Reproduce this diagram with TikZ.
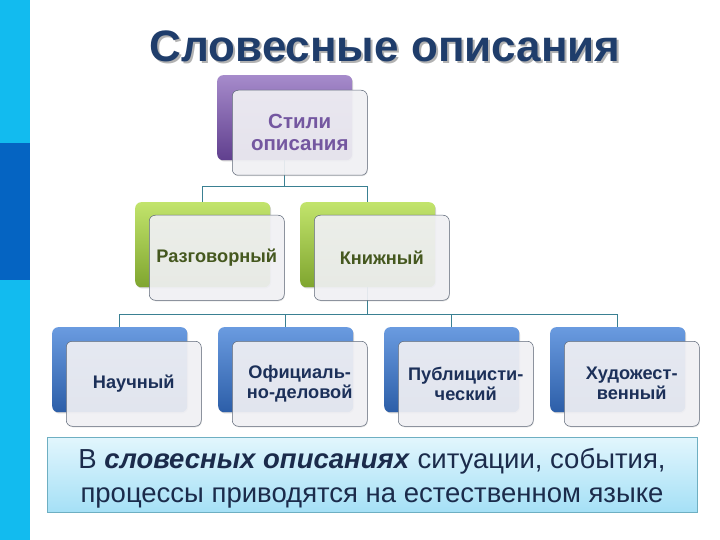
\documentclass[tikz,border=0pt]{standalone}
\usepackage{fontspec}
\setmainfont{Liberation Sans}
\usetikzlibrary{shadows}
\definecolor{barlight}{HTML}{12BBEF}
\definecolor{bardark}{HTML}{0564C2}
\definecolor{titleblue}{HTML}{1F3D6B}
\definecolor{connc}{HTML}{3A8092}
\definecolor{purpT}{HTML}{A68BCB}
\definecolor{purpB}{HTML}{603F8E}
\definecolor{greenT}{HTML}{C2E46C}
\definecolor{greenB}{HTML}{7FA52F}
\definecolor{blueT}{HTML}{6A9BE0}
\definecolor{blueB}{HTML}{2C5EA8}
\definecolor{purptext}{HTML}{7457A0}
\definecolor{greentext}{HTML}{45581F}
\definecolor{bluetext}{HTML}{1C3059}
\definecolor{navytext}{HTML}{1B2B4B}
\definecolor{frontfill}{HTML}{F3F3F7}
\definecolor{frontline}{HTML}{5E6878}
\definecolor{boxT}{HTML}{E2F6FD}
\definecolor{boxB}{HTML}{A5E0F6}
\definecolor{boxline}{HTML}{6EAFC2}
\newcommand{\shadowtext}[1]{\makebox[0pt][l]{\hspace{2pt}\raisebox{-2pt}{\color{gray!60}#1}}#1}
\begin{document}
\begin{tikzpicture}[x=1pt,y=-1pt,
  conn/.style={draw=connc, line width=1.4pt},
  backbox/.style={rounded corners=6pt, minimum width=135pt, minimum height=85pt,
    inner sep=0pt, anchor=north west,
    drop shadow={shadow xshift=0.8pt, shadow yshift=-1.2pt, opacity=0.35}},
  purpback/.style={backbox, top color=purpT, bottom color=purpB},
  greenback/.style={backbox, top color=greenT, bottom color=greenB},
  blueback/.style={backbox, top color=blueT, bottom color=blueB},
  frontbox/.style={rounded corners=6pt, minimum width=135pt, minimum height=85pt,
    inner sep=2pt, anchor=north west, draw=frontline, line width=0.5pt,
    fill=frontfill, fill opacity=0.9, text opacity=1, align=center,
    drop shadow={shadow xshift=0.6pt, shadow yshift=-1pt, opacity=0.25},
    font=\bfseries\fontsize{18.2}{20}\selectfont}
]
\useasboundingbox (0,0) rectangle (720,540);
\fill[white] (0,0) rectangle (720,540);
% left bar
\fill[barlight] (0,0) rectangle (30,540);
\fill[bardark] (0,143) rectangle (30,280);
% title
\node[text=titleblue, font=\bfseries\fontsize{44}{50}\selectfont] (title) at (385,47) {\shadowtext{Словесные описания}};
% back boxes
\node[purpback] (tb) at (217,75) {};
\node[greenback] (rb) at (135,202) {};
\node[greenback] (kb) at (300,202) {};
\node[blueback] (b1) at (52,327) {};
\node[blueback] (b2) at (218,327) {};
\node[blueback] (b3) at (384,327) {};
\node[blueback] (b4) at (550,327) {};
% connectors
\draw[conn] (tb.south) -- ++(0,26) -| (rb.north);
\draw[conn] (tb.south) -- ++(0,26) -| (kb.north);
\draw[conn] (kb.south) -- ++(0,27) -| (b1.north);
\draw[conn] (kb.south) -- ++(0,27) -| (b2.north);
\draw[conn] (kb.south) -- ++(0,27) -| (b3.north);
\draw[conn] (kb.south) -- ++(0,27) -| (b4.north);
% front boxes
\node[frontbox, text=purptext, font=\bfseries\fontsize{20.5}{22}\selectfont] (tf) at (232,90) {Стили\\описания};
\node[frontbox, text=greentext] (rf) at (149,215) {Разговорный};
\node[frontbox, text=greentext] (kf) at (314,215) {Книжный};
\node[frontbox, text=bluetext] (f1) at (66,341) {Научный};
\node[frontbox, text=bluetext] (f2) at (232,341) {Официаль-\\но-деловой};
\node[frontbox, text=bluetext] (f3) at (398,341) {Публицисти-\\ческий};
\node[frontbox, text=bluetext] (f4) at (564,341) {Художест-\\венный};
% bottom text box
\node[top color=boxT, bottom color=boxB, draw=boxline, line width=0.8pt,
  minimum width=650pt, minimum height=75pt, inner sep=0pt,
  drop shadow={shadow xshift=0.8pt, shadow yshift=-1.2pt, opacity=0.3}] (note) at (372,474.5) {};
\node[text=navytext, align=center, font=\fontsize{27.5}{34}\selectfont] (notetext) at ([yshift=-4pt]note.center)
  {В \textbf{\textit{словесных описаниях}} ситуации, события,\\процессы приводятся на естественном языке};
\end{tikzpicture}
\end{document}
